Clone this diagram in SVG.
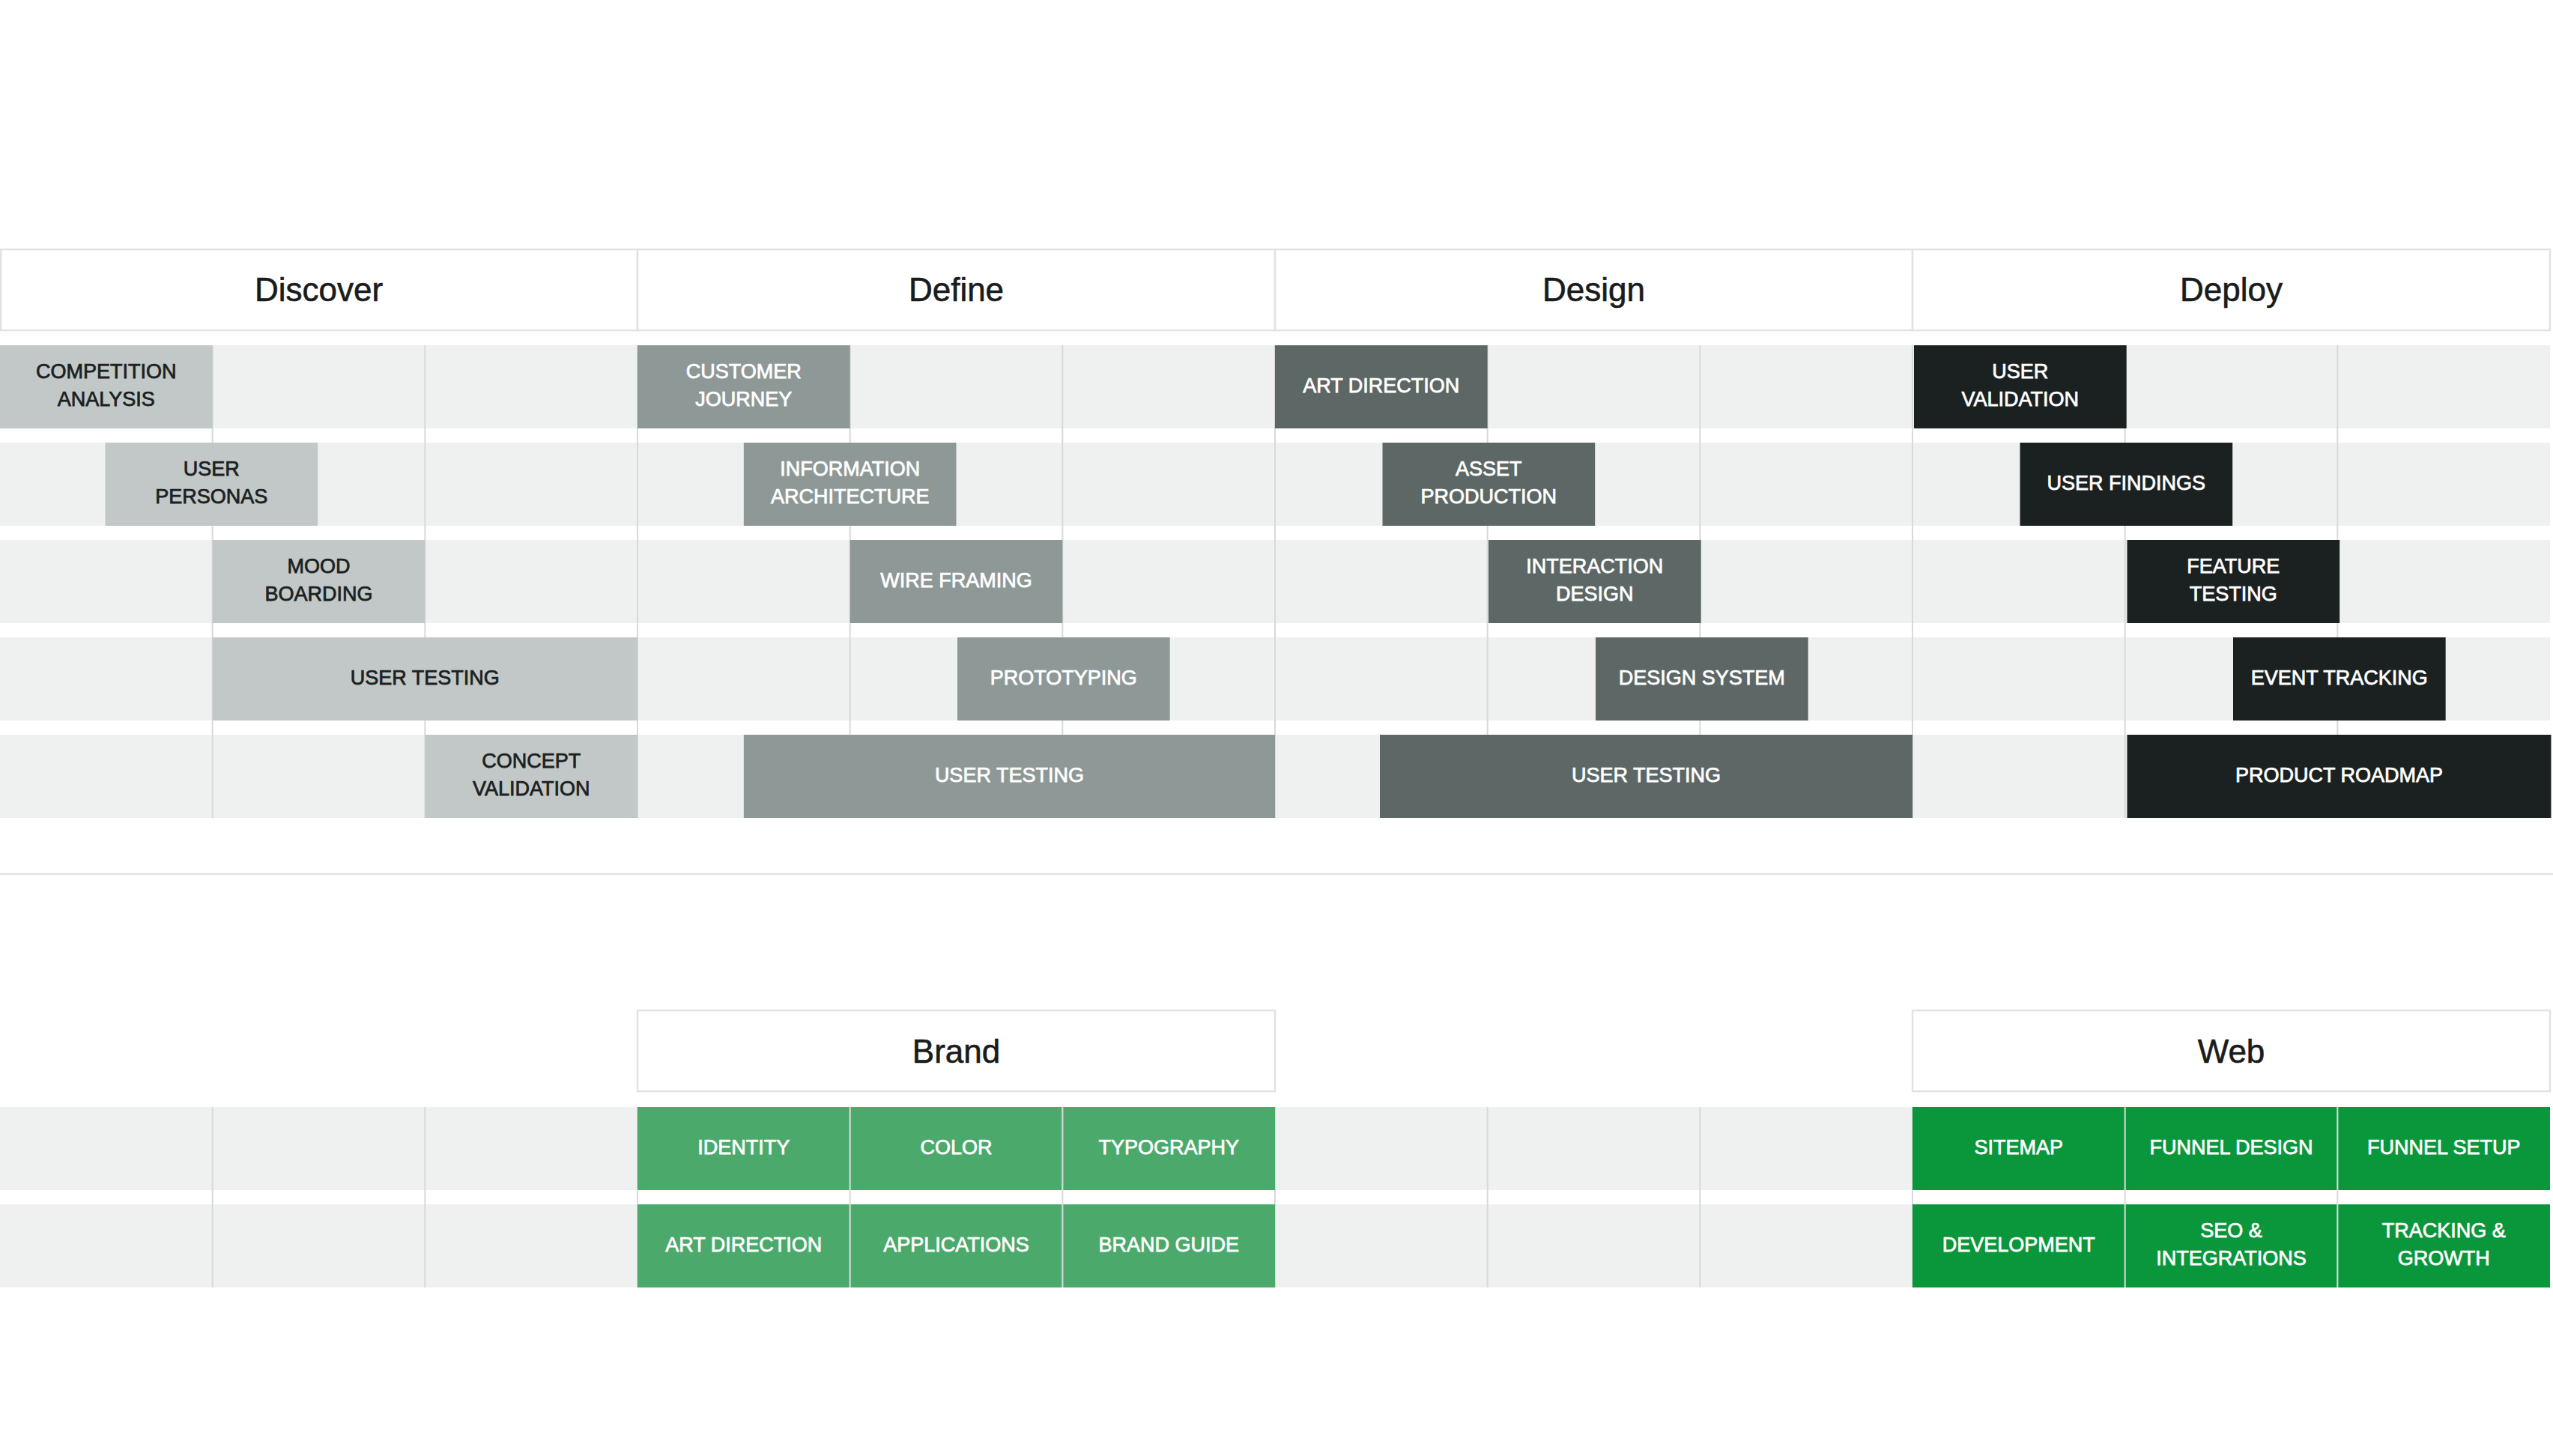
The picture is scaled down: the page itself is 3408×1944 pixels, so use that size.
<svg xmlns="http://www.w3.org/2000/svg" width="3408" height="1944" viewBox="0 0 3408 1944">
<style>
.bg{fill:#eff1f0}
.grid{stroke:#d6dad9;stroke-width:2}
.hdr{fill:#ffffff;stroke:#e1e3e3;stroke-width:2.5}
.div{stroke:#e1e3e3;stroke-width:2.5}
.ht{font-family:"Liberation Sans",Arial,Helvetica,sans-serif;font-size:44px;fill:#1a1c1c;stroke:#1a1c1c;stroke-width:0.6;text-anchor:middle}
.t{font-family:"Liberation Sans",Arial,Helvetica,sans-serif;font-size:27px;text-anchor:middle;fill:#ffffff;stroke:#ffffff;stroke-width:0.75}
.c1{fill:#c2c8c7}
.c2{fill:#8e9897}
.c3{fill:#5c6766}
.c4{fill:#1a2120}
.g1{fill:#4aa96b}
.g2{fill:#0a963b}
.dk{fill:#1b2121;stroke:#1b2121}
</style>
<rect width="3408" height="1944" fill="#ffffff"/>

<!-- row backgrounds -->
<g id="rows">
<rect class="bg" x="0" y="461" width="3404" height="111"/>
<rect class="bg" x="0" y="591" width="3404" height="111"/>
<rect class="bg" x="0" y="721" width="3404" height="111"/>
<rect class="bg" x="0" y="851" width="3404" height="111"/>
<rect class="bg" x="0" y="981" width="3404" height="111"/>
<rect class="bg" x="0" y="1478" width="3404" height="111"/>
<rect class="bg" x="0" y="1608" width="3404" height="111"/>
</g>

<!-- grid lines -->
<g id="grid" class="grid">
<line x1="283.67" y1="461" x2="283.67" y2="1092"/>
<line x1="567.33" y1="461" x2="567.33" y2="1092"/>
<line x1="851" y1="461" x2="851" y2="1092"/>
<line x1="1134.67" y1="461" x2="1134.67" y2="1092"/>
<line x1="1418.33" y1="461" x2="1418.33" y2="1092"/>
<line x1="1702" y1="461" x2="1702" y2="1092"/>
<line x1="1985.67" y1="461" x2="1985.67" y2="1092"/>
<line x1="2269.33" y1="461" x2="2269.33" y2="1092"/>
<line x1="2553" y1="461" x2="2553" y2="1092"/>
<line x1="2836.67" y1="461" x2="2836.67" y2="1092"/>
<line x1="3120.33" y1="461" x2="3120.33" y2="1092"/>
<line x1="283.67" y1="1478" x2="283.67" y2="1719"/>
<line x1="567.33" y1="1478" x2="567.33" y2="1719"/>
<line x1="851" y1="1478" x2="851" y2="1719"/>
<line x1="1134.67" y1="1478" x2="1134.67" y2="1719"/>
<line x1="1418.33" y1="1478" x2="1418.33" y2="1719"/>
<line x1="1702" y1="1478" x2="1702" y2="1719"/>
<line x1="1985.67" y1="1478" x2="1985.67" y2="1719"/>
<line x1="2269.33" y1="1478" x2="2269.33" y2="1719"/>
<line x1="2553" y1="1478" x2="2553" y2="1719"/>
<line x1="2836.67" y1="1478" x2="2836.67" y2="1719"/>
<line x1="3120.33" y1="1478" x2="3120.33" y2="1719"/>
</g>

<!-- divider -->
<line class="div" x1="0" y1="1167" x2="3408" y2="1167"/>

<!-- phase headers -->
<g id="header-discover">
<rect class="hdr" x="1.25" y="333" width="849.75" height="108"/>
<text class="ht" x="425.5" y="402">Discover</text>
</g>
<g id="header-define">
<rect class="hdr" x="851" y="333" width="851" height="108"/>
<text class="ht" x="1276.5" y="402">Define</text>
</g>
<g id="header-design">
<rect class="hdr" x="1702" y="333" width="851" height="108"/>
<text class="ht" x="2127.5" y="402">Design</text>
</g>
<g id="header-deploy">
<rect class="hdr" x="2553" y="333" width="851" height="108"/>
<text class="ht" x="2978.5" y="402">Deploy</text>
</g>

<!-- Discover -->
<g id="competition-analysis">
<rect class="c1" x="0" y="461" width="283.67" height="111"/>
<text class="t dk" x="141.83" y="505">COMPETITION</text>
<text class="t dk" x="141.83" y="541.7">ANALYSIS</text>
</g>
<g id="user-personas">
<rect class="c1" x="140.5" y="591" width="283.67" height="111"/>
<text class="t dk" x="282.3" y="635">USER</text>
<text class="t dk" x="282.3" y="671.7">PERSONAS</text>
</g>
<g id="mood-boarding">
<rect class="c1" x="283.67" y="721" width="283.67" height="111"/>
<text class="t dk" x="425.5" y="765">MOOD</text>
<text class="t dk" x="425.5" y="801.7">BOARDING</text>
</g>
<g id="user-testing-discover">
<rect class="c1" x="283.67" y="851" width="567.33" height="111"/>
<text class="t dk" x="567.33" y="913.5">USER TESTING</text>
</g>
<g id="concept-validation">
<rect class="c1" x="567.33" y="981" width="283.67" height="111"/>
<text class="t dk" x="709.17" y="1025">CONCEPT</text>
<text class="t dk" x="709.17" y="1061.7">VALIDATION</text>
</g>

<!-- Define -->
<g id="customer-journey">
<rect class="c2" x="851" y="461" width="283.67" height="111"/>
<text class="t" x="992.83" y="505">CUSTOMER</text>
<text class="t" x="992.83" y="541.7">JOURNEY</text>
</g>
<g id="information-architecture">
<rect class="c2" x="992.83" y="591" width="283.67" height="111"/>
<text class="t" x="1134.67" y="635">INFORMATION</text>
<text class="t" x="1134.67" y="671.7">ARCHITECTURE</text>
</g>
<g id="wire-framing">
<rect class="c2" x="1134.67" y="721" width="283.67" height="111"/>
<text class="t" x="1276.5" y="783.5">WIRE FRAMING</text>
</g>
<g id="prototyping">
<rect class="c2" x="1278" y="851" width="283.67" height="111"/>
<text class="t" x="1419.8" y="913.5">PROTOTYPING</text>
</g>
<g id="user-testing-define">
<rect class="c2" x="992.83" y="981" width="709.17" height="111"/>
<text class="t" x="1347.4" y="1043.5">USER TESTING</text>
</g>

<!-- Design -->
<g id="art-direction-design">
<rect class="c3" x="1702" y="461" width="283.67" height="111"/>
<text class="t" x="1843.83" y="523.5">ART DIRECTION</text>
</g>
<g id="asset-production">
<rect class="c3" x="1845.5" y="591" width="283.67" height="111"/>
<text class="t" x="1987.3" y="635">ASSET</text>
<text class="t" x="1987.3" y="671.7">PRODUCTION</text>
</g>
<g id="interaction-design">
<rect class="c3" x="1987" y="721" width="283.67" height="111"/>
<text class="t" x="2128.8" y="765">INTERACTION</text>
<text class="t" x="2128.8" y="801.7">DESIGN</text>
</g>
<g id="design-system">
<rect class="c3" x="2130" y="851" width="283.67" height="111"/>
<text class="t" x="2271.8" y="913.5">DESIGN SYSTEM</text>
</g>
<g id="user-testing-design">
<rect class="c3" x="1842" y="981" width="711" height="111"/>
<text class="t" x="2197.5" y="1043.5">USER TESTING</text>
</g>

<!-- Deploy -->
<g id="user-validation">
<rect class="c4" x="2555" y="461" width="283.67" height="111"/>
<text class="t" x="2696.8" y="505">USER</text>
<text class="t" x="2696.8" y="541.7">VALIDATION</text>
</g>
<g id="user-findings">
<rect class="c4" x="2696.5" y="591" width="283.67" height="111"/>
<text class="t" x="2838.3" y="653.5">USER FINDINGS</text>
</g>
<g id="feature-testing">
<rect class="c4" x="2839.5" y="721" width="283.67" height="111"/>
<text class="t" x="2981.3" y="765">FEATURE</text>
<text class="t" x="2981.3" y="801.7">TESTING</text>
</g>
<g id="event-tracking">
<rect class="c4" x="2981" y="851" width="283.67" height="111"/>
<text class="t" x="3122.8" y="913.5">EVENT TRACKING</text>
</g>
<g id="product-roadmap">
<rect class="c4" x="2839.5" y="981" width="566" height="111"/>
<text class="t" x="3122.5" y="1043.5">PRODUCT ROADMAP</text>
</g>

<!-- Brand -->
<g id="header-brand">
<rect class="hdr" x="851" y="1349" width="851" height="108"/>
<text class="ht" x="1276.5" y="1418.5">Brand</text>
</g>
<g id="identity">
<rect class="g1" x="851" y="1478" width="282.67" height="111"/>
<text class="t" x="992.83" y="1540.5">IDENTITY</text>
</g>
<g id="color">
<rect class="g1" x="1135.67" y="1478" width="281.67" height="111"/>
<text class="t" x="1276.5" y="1540.5">COLOR</text>
</g>
<g id="typography">
<rect class="g1" x="1419.33" y="1478" width="282.67" height="111"/>
<text class="t" x="1560.17" y="1540.5">TYPOGRAPHY</text>
</g>
<g id="art-direction-brand">
<rect class="g1" x="851" y="1608" width="282.67" height="111"/>
<text class="t" x="992.83" y="1670.5">ART DIRECTION</text>
</g>
<g id="applications">
<rect class="g1" x="1135.67" y="1608" width="281.67" height="111"/>
<text class="t" x="1276.5" y="1670.5">APPLICATIONS</text>
</g>
<g id="brand-guide">
<rect class="g1" x="1419.33" y="1608" width="282.67" height="111"/>
<text class="t" x="1560.17" y="1670.5">BRAND GUIDE</text>
</g>

<!-- Web -->
<g id="header-web">
<rect class="hdr" x="2553" y="1349" width="851" height="108"/>
<text class="ht" x="2978.5" y="1418.5">Web</text>
</g>
<g id="sitemap">
<rect class="g2" x="2553" y="1478" width="282.67" height="111"/>
<text class="t" x="2694.83" y="1540.5">SITEMAP</text>
</g>
<g id="funnel-design">
<rect class="g2" x="2837.67" y="1478" width="281.67" height="111"/>
<text class="t" x="2978.5" y="1540.5">FUNNEL DESIGN</text>
</g>
<g id="funnel-setup">
<rect class="g2" x="3121.33" y="1478" width="282.67" height="111"/>
<text class="t" x="3262.17" y="1540.5">FUNNEL SETUP</text>
</g>
<g id="development">
<rect class="g2" x="2553" y="1608" width="282.67" height="111"/>
<text class="t" x="2694.83" y="1670.5">DEVELOPMENT</text>
</g>
<g id="seo-integrations">
<rect class="g2" x="2837.67" y="1608" width="281.67" height="111"/>
<text class="t" x="2978.5" y="1652">SEO &amp;</text>
<text class="t" x="2978.5" y="1688.7">INTEGRATIONS</text>
</g>
<g id="tracking-growth">
<rect class="g2" x="3121.33" y="1608" width="282.67" height="111"/>
<text class="t" x="3262.17" y="1652">TRACKING &amp;</text>
<text class="t" x="3262.17" y="1688.7">GROWTH</text>
</g>

<g id="connectors"/>
</svg>
